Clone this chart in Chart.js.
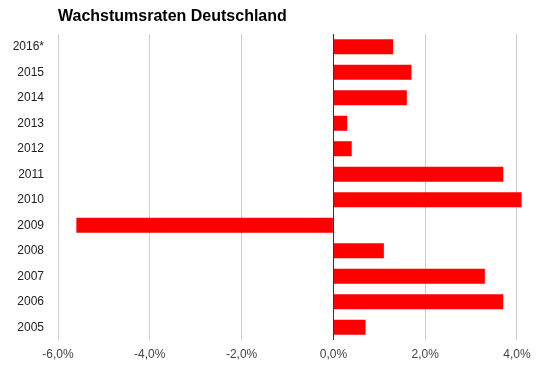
<!DOCTYPE html>
<html>
<head>
<meta charset="utf-8">
<script src="https://cdn.jsdelivr.net/npm/chart.js@4/dist/chart.umd.min.js"></script>
<style>
  html, body { margin: 0; padding: 0; background: #fff; }
  #wrap { width: 539px; height: 371px; }
</style>
</head>
<body>
<div id="wrap"><canvas id="myChart" width="539" height="371"></canvas></div>
<script>
// Daten
const years = ['2016*', '2015', '2014', '2013', '2012', '2011', '2010', '2009', '2008', '2007', '2006', '2005'];
const growth = [1.3, 1.7, 1.6, 0.3, 0.4, 3.7, 4.1, -5.6, 1.1, 3.3, 3.7, 0.7];
const xTicks = [-6, -4, -2, 0, 2, 4];
const chartTitle = 'Wachstumsraten Deutschland';

const fmt = v => v.toFixed(1).replace('.', ',') + '%';

// Titel links über der Zeichenfläche
const titlePlugin = {
    id: 'leftTitle',
    afterDraw(chart) {
        const c = chart.ctx;
        c.save();
        c.font = 'bold 16px "Liberation Sans", Arial, sans-serif';
        c.fillStyle = '#000';
        c.textBaseline = 'middle';
        c.textAlign = 'left';
        c.fillText(chartTitle, chart.chartArea.left, 17);
        c.restore();
    }
};

const ctx = document.getElementById('myChart').getContext('2d');
new Chart(ctx, {
    type: 'bar',
    data: {
        labels: years,
        datasets: [{
            data: growth,
            backgroundColor: '#ff0000',
            barPercentage: 0.59,
            categoryPercentage: 1.0
        }]
    },
    options: {
        indexAxis: 'y',
        responsive: false,
        animation: false,
        layout: { padding: { top: 34, right: 0, left: 0, bottom: 0 } },
        plugins: {
            legend: { display: false },
            tooltip: { enabled: false },
            title: { display: false }
        },
        scales: {
            x: {
                min: -6,
                max: 4.48,
                afterBuildTicks: axis => { axis.ticks = xTicks.map(v => ({ value: v })); },
                afterFit: axis => { axis.height = 31; },
                border: { display: false },
                grid: {
                    drawTicks: false,
                    color: c => (c.tick && c.tick.value === 0) ? '#333333' : '#cccccc',
                    lineWidth: 1
                },
                ticks: {
                    padding: 7,
                    color: '#444',
                    font: { family: '"Liberation Sans", Arial, sans-serif', size: 12 },
                    callback: v => fmt(v)
                }
            },
            y: {
                afterFit: axis => { axis.width = 58; },
                border: { display: false },
                grid: { display: false, drawTicks: false },
                ticks: {
                    padding: 14,
                    color: '#222',
                    font: { family: '"Liberation Sans", Arial, sans-serif', size: 12 }
                }
            }
        }
    },
    plugins: [titlePlugin]
});
</script>
</body>
</html>
